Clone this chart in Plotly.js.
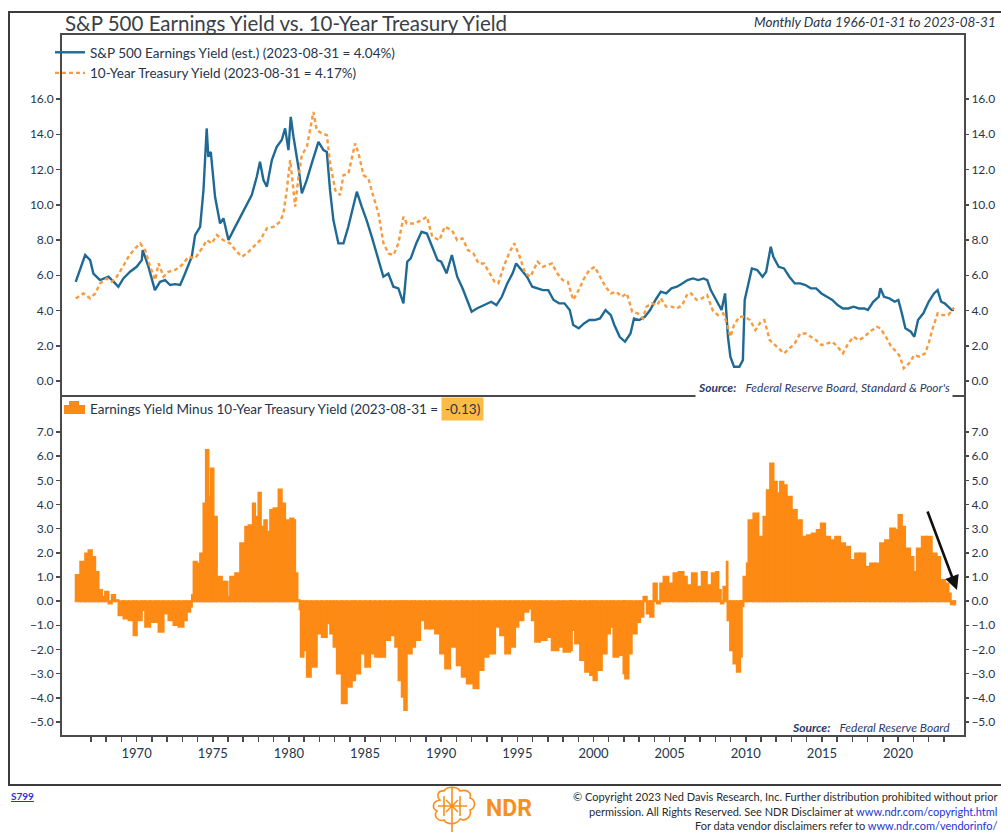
<!DOCTYPE html>
<html>
<head>
<meta charset="utf-8">
<script src="https://cdn.plot.ly/plotly-3.0.1.min.js"></script>
<style>html,body{margin:0;padding:0;background:#fff;}#chart{width:1001px;height:832px;}</style>
</head>
<body>
<div id="chart"></div>
<script>
// ---- Data (decimal years) ----
const eyYears = [1966.0,1966.62,1966.95,1967.16,1967.6,1968.15,1968.5,1968.8,1969.13,1969.57,1970.0,1970.34,1970.4,1970.78,1971.2,1971.54,1971.87,1972.2,1972.53,1972.86,1973.18,1973.62,1973.84,1974.17,1974.39,1974.6,1974.71,1974.87,1975.15,1975.48,1975.7,1976.03,1976.36,1976.8,1977.24,1977.56,1977.89,1978.1,1978.33,1978.55,1978.88,1979.2,1979.53,1979.75,1979.97,1980.12,1980.3,1980.62,1980.85,1981.17,1981.5,1981.72,1981.94,1982.27,1982.49,1982.7,1982.92,1983.25,1983.58,1983.9,1984.23,1984.46,1984.78,1985.1,1985.44,1985.88,1986.2,1986.53,1986.86,1987.19,1987.52,1987.77,1988.0,1988.36,1988.71,1989.06,1989.41,1989.76,1990.0,1990.35,1990.7,1991.05,1991.4,1991.76,1992.0,1992.34,1992.81,1993.28,1993.63,1993.98,1994.34,1994.69,1994.92,1995.27,1995.63,1995.98,1996.33,1996.68,1997.03,1997.38,1997.74,1998.09,1998.44,1998.67,1999.03,1999.38,1999.73,2000.08,2000.43,2000.79,2001.14,2001.37,2001.72,2002.07,2002.43,2002.66,2003.01,2003.37,2003.72,2004.07,2004.42,2004.77,2005.12,2005.48,2005.83,2006.18,2006.53,2006.88,2007.23,2007.47,2007.7,2008.06,2008.41,2008.64,2008.83,2008.99,2009.23,2009.58,2009.81,2009.93,2010.17,2010.4,2010.75,2011.1,2011.34,2011.64,2011.81,2012.16,2012.51,2012.86,2013.22,2013.57,2013.92,2014.27,2014.62,2014.97,2015.33,2015.68,2016.03,2016.38,2016.73,2017.08,2017.43,2017.79,2018.02,2018.37,2018.73,2018.84,2019.08,2019.43,2019.78,2020.02,2020.25,2020.48,2020.84,2021.07,2021.31,2021.66,2022.01,2022.36,2022.6,2022.83,2023.06,2023.53,2023.67];
const eyValues = [5.63,7.15,6.86,6.1,5.73,5.92,5.63,5.35,5.82,6.2,6.48,6.86,7.43,6.48,5.16,5.63,5.73,5.45,5.5,5.45,6.1,7.05,8.28,8.75,10.83,14.33,12.72,13.0,10.45,8.94,9.23,8.0,8.56,9.32,10.08,10.55,11.59,12.44,11.4,11.02,12.54,13.29,13.67,14.33,13.1,14.99,13.86,12.16,10.65,11.4,12.35,13.0,13.57,13.1,13.0,10.83,9.13,7.81,7.81,8.75,9.89,10.74,9.89,9.13,8.19,6.86,5.92,6.1,5.35,5.26,4.41,6.77,6.96,7.81,8.47,8.37,7.62,6.86,6.77,6.11,7.15,5.92,5.26,4.5,3.93,4.12,4.31,4.5,4.31,4.78,5.54,6.11,6.67,6.3,5.92,5.35,5.26,5.16,5.16,4.6,4.41,4.41,4.03,3.18,2.99,3.27,3.46,3.46,3.55,4.03,3.74,3.18,2.51,2.23,2.7,3.55,3.46,3.65,4.03,4.6,5.07,4.97,5.26,5.35,5.54,5.73,5.82,5.73,5.82,5.73,5.16,4.6,4.03,4.97,2.51,1.38,0.81,0.81,1.19,4.6,5.54,6.39,6.3,5.92,6.2,7.62,7.05,6.48,6.39,5.92,5.54,5.54,5.45,5.26,5.26,4.97,4.78,4.6,4.31,4.12,4.12,4.22,4.12,4.12,4.03,4.5,4.78,5.26,4.78,4.69,4.5,4.6,3.84,2.99,2.8,2.51,3.46,3.84,4.5,4.97,5.16,4.5,4.41,4.03,4.04];

const tyYears = [1966.0,1966.51,1966.95,1967.28,1967.61,1968.04,1968.37,1968.7,1969.03,1969.47,1969.8,1970.23,1970.56,1970.89,1971.22,1971.44,1971.77,1972.09,1972.53,1972.97,1973.41,1973.84,1974.28,1974.61,1974.94,1975.27,1975.7,1976.14,1976.58,1976.91,1977.24,1977.68,1978.11,1978.55,1978.99,1979.42,1979.64,1979.86,1980.08,1980.3,1980.41,1980.63,1980.85,1981.18,1981.4,1981.61,1981.83,1982.16,1982.49,1982.71,1983.04,1983.36,1983.58,1983.91,1984.35,1984.57,1984.9,1985.22,1985.55,1985.88,1986.21,1986.54,1986.87,1987.19,1987.52,1987.74,1988.24,1988.71,1989.06,1989.41,1989.88,1990.23,1990.7,1991.05,1991.4,1991.76,1992.11,1992.46,1992.81,1993.16,1993.51,1993.75,1994.1,1994.45,1994.8,1995.16,1995.51,1995.86,1996.33,1996.68,1997.27,1997.62,1997.97,1998.32,1998.67,1999.03,1999.38,1999.73,2000.08,2000.43,2000.79,2001.14,2001.49,2001.84,2002.19,2002.54,2002.9,2003.25,2003.48,2003.83,2004.19,2004.42,2004.77,2005.12,2005.48,2005.83,2006.18,2006.41,2006.77,2007.12,2007.47,2007.82,2008.17,2008.52,2008.76,2008.99,2009.23,2009.58,2009.93,2010.28,2010.63,2010.99,2011.22,2011.57,2012.04,2012.51,2012.86,2013.22,2013.57,2013.92,2014.27,2014.62,2014.97,2015.33,2015.68,2016.03,2016.38,2016.73,2017.08,2017.43,2017.79,2018.14,2018.61,2018.84,2019.2,2019.55,2019.9,2020.13,2020.37,2020.72,2021.07,2021.42,2021.77,2022.01,2022.24,2022.6,2022.95,2023.3,2023.53,2023.67];
const tyValues = [4.69,4.97,4.69,4.97,5.54,5.82,5.63,5.92,6.39,7.05,7.43,7.81,7.43,6.48,5.73,6.67,5.92,6.2,6.3,6.58,7.05,6.96,7.52,7.99,7.81,8.28,7.99,7.81,7.33,7.05,7.24,7.62,7.99,8.66,8.75,9.04,9.51,10.83,12.53,10.83,9.89,11.59,12.82,13.29,14.23,15.27,14.23,14.05,13.95,12.34,10.83,10.55,11.68,11.78,13.48,12.91,11.68,11.49,10.45,9.51,7.81,7.24,7.15,7.81,9.32,8.94,8.94,9.13,9.32,8.19,7.99,8.75,8.56,7.99,8.09,7.43,7.24,6.67,6.67,6.11,5.63,5.54,6.48,7.24,7.81,7.05,6.11,5.92,6.77,6.48,6.67,6.11,5.73,5.63,4.6,5.16,5.82,6.3,6.48,5.92,5.35,4.97,5.07,4.78,4.97,3.93,3.84,3.55,4.22,4.41,4.31,4.69,4.22,4.22,4.12,4.31,4.97,4.97,4.6,4.69,4.88,4.03,3.74,3.84,3.27,2.51,3.18,3.65,3.65,3.46,2.89,3.37,3.46,2.32,1.95,1.57,1.85,2.14,2.7,2.7,2.51,2.32,2.04,2.14,2.23,1.95,1.57,2.14,2.51,2.32,2.51,2.8,3.08,2.99,2.51,1.95,1.66,1.38,0.72,1.0,1.47,1.38,1.57,2.14,2.89,3.84,3.74,3.74,4.03,4.17];

const spreadYears = [1966.0,1966.3,1966.62,1966.84,1967.06,1967.28,1967.5,1967.72,1967.93,1968.15,1968.37,1968.59,1968.81,1969.14,1969.47,1969.8,1970.01,1970.34,1970.56,1970.89,1971.22,1971.44,1971.77,1972.09,1972.42,1972.75,1973.08,1973.3,1973.52,1973.63,1973.74,1973.95,1974.17,1974.39,1974.55,1974.72,1974.87,1975.05,1975.27,1975.6,1975.81,1975.97,1976.14,1976.47,1976.8,1977.13,1977.35,1977.63,1977.78,1978.0,1978.16,1978.38,1978.55,1978.77,1978.99,1979.32,1979.53,1979.75,1979.97,1980.08,1980.3,1980.41,1980.56,1980.7,1980.78,1980.96,1981.18,1981.44,1981.83,1982.16,1982.49,1982.71,1982.93,1983.15,1983.47,1983.8,1984.13,1984.35,1984.68,1985.01,1985.33,1985.66,1985.99,1986.32,1986.65,1986.98,1987.2,1987.41,1987.57,1987.74,1988.07,1988.29,1988.62,1988.94,1989.27,1989.6,1989.93,1990.26,1990.59,1991.02,1991.35,1991.68,1992.12,1992.45,1992.78,1993.1,1993.54,1993.87,1994.2,1994.53,1994.85,1995.07,1995.4,1995.73,1995.95,1996.17,1996.5,1996.93,1997.26,1997.7,1998.03,1998.47,1998.58,1998.79,1999.12,1999.45,1999.78,2000.0,2000.22,2000.55,2000.87,2001.09,2001.31,2001.64,2001.97,2002.08,2002.3,2002.51,2002.84,2003.06,2003.28,2003.5,2003.72,2003.94,2004.16,2004.38,2004.6,2004.92,2005.25,2005.58,2005.91,2006.13,2006.46,2006.78,2007.11,2007.44,2007.77,2008.05,2008.2,2008.36,2008.53,2008.75,2008.8,2008.97,2009.19,2009.41,2009.63,2009.74,2009.85,2010.07,2010.18,2010.5,2010.83,2011.16,2011.38,2011.6,2011.82,2012.04,2012.25,2012.47,2012.69,2013.02,2013.35,2013.68,2014.01,2014.33,2014.66,2014.93,2015.21,2015.54,2015.87,2016.2,2016.52,2016.85,2017.18,2017.51,2017.84,2018.16,2018.49,2018.82,2019.15,2019.48,2019.81,2020.03,2020.25,2020.46,2020.79,2021.01,2021.23,2021.56,2021.88,2022.21,2022.54,2022.76,2023.09,2023.31,2023.46,2023.67];
const spreadValues = [1.08,1.63,1.97,2.11,1.83,1.21,0.46,0.18,0.39,-0.1,0.25,0.04,-0.58,-0.72,-0.79,-1.41,-0.79,-0.37,-1.06,-0.86,-0.86,-1.27,-0.51,-0.79,-0.99,-1.06,-0.79,-0.44,-0.23,0.25,1.63,1.56,1.97,4.04,6.25,4.32,5.49,3.49,1.01,0.8,0.8,0.18,1.01,1.15,2.39,3.08,3.14,4.04,3.49,4.48,3.08,3.35,2.87,3.77,3.84,4.62,4.04,3.35,2.25,3.42,3.35,1.15,0.04,-0.34,-2.3,-2.03,-3.13,-2.72,-1.34,-1.48,-0.92,-1.34,-1.89,-2.99,-4.23,-3.54,-3.27,-2.99,-2.17,-2.72,-2.17,-2.3,-2.3,-1.61,-1.41,-1.89,-3.27,-3.96,-4.51,-2.17,-1.89,-1.61,-0.79,-1.13,-1.13,-1.34,-2.17,-2.79,-1.89,-2.65,-3.13,-3.41,-3.61,-2.85,-2.3,-2.17,-1.06,-1.41,-2.17,-1.89,-1.06,-0.79,-0.44,-0.3,-0.79,-1.68,-1.61,-1.48,-2.03,-1.89,-2.1,-2.03,-1.2,-1.75,-2.44,-2.92,-3.06,-3.27,-2.85,-2.17,-1.34,-1.06,-2.3,-2.23,-2.99,-3.2,-2.17,-1.34,-0.86,-0.65,0.18,-0.51,-0.65,0.73,-0.1,0.73,1.01,0.73,1.15,1.21,1.01,0.66,1.15,0.59,1.21,0.66,1.15,1.21,0.46,-0.1,0.59,1.63,-0.79,-2.03,-2.58,-2.92,-2.3,-0.21,1.01,1.56,3.35,3.63,2.66,3.49,4.59,5.7,4.94,4.46,4.94,4.8,4.32,3.77,3.35,2.66,2.73,2.8,2.94,3.21,2.66,2.52,2.66,2.39,2.25,1.7,1.97,1.97,1.42,1.56,1.56,2.39,2.52,3.01,2.94,3.56,3.08,2.18,1.83,1.21,2.18,2.66,2.66,1.97,1.83,0.87,0.73,0.32,-0.13,-0.13];

const yearTicks = [];
for (let y = 1967; y <= 2023; y++) yearTicks.push(y);
const yearTickText = yearTicks.map(y => (y % 5 === 0 ? String(y) : ''));
const topTicks = [0, 2, 4, 6, 8, 10, 12, 14, 16];
const bottomTicks = [-5, -4, -3, -2, -1, 0, 1, 2, 3, 4, 5, 6, 7];

const labelEY = 'S&P 500 Earnings Yield (est.) (2023-08-31 = 4.04%)';
const labelTY = '10-Year Treasury Yield (2023-08-31 = 4.17%)';
const labelSpread = 'Earnings Yield Minus 10-Year Treasury Yield (2023-08-31 =';
const lastSpreadText = '-0.13)';

// ---- helpers for layout placement (pixel -> paper) ----
const L = 62, R = 37, T = 35, B = 97, W = 1001, H = 832;
const PW = W - L - R, PH = H - T - B;
const px = v => (v - L) / PW;
const py = v => (H - B - v) / PH;
const split = py(395);

const barWidths = spreadYears.map((y, i) => i < spreadYears.length - 1 ? spreadYears[i + 1] - y : 1 / 12);

const FONT = 'Lato, "Open Sans", sans-serif';
const TXT = '#26354a';
const AX = '#4a4a4a';
const BAR = '#fd8a14';

const traces = [
  { x: eyYears, y: eyValues, type: 'scatter', mode: 'lines', name: labelEY,
    xaxis: 'x2', yaxis: 'y', line: { color: '#1f6a95', width: 2.4 }, legend: 'legend' },
  { x: tyYears, y: tyValues, type: 'scatter', mode: 'lines', name: labelTY,
    xaxis: 'x2', yaxis: 'y', line: { color: '#f99a3d', width: 2.4, dash: '4px,3px' }, legend: 'legend' },
  { x: spreadYears, y: spreadValues, type: 'bar', name: labelSpread, width: barWidths, offset: 0,
    xaxis: 'x', yaxis: 'y2', marker: { color: BAR, line: { color: BAR, width: 2 } }, showlegend: false },
  { x: [], y: [], type: 'scatter', xaxis: 'x2', yaxis: 'y3', showlegend: false, hoverinfo: 'skip' },
  { x: [], y: [], type: 'scatter', xaxis: 'x', yaxis: 'y4', showlegend: false, hoverinfo: 'skip' }
];

const yCommon = {
  showgrid: false, zeroline: false, showline: true, linecolor: AX, linewidth: 2,
  ticks: 'outside', ticklen: 4, tickwidth: 1.5, tickcolor: AX, tickformat: '.1f',
  tickfont: { family: FONT, size: 12, color: TXT }, fixedrange: true
};

const ndrLogo = 'M452,787 L452,832 M440,800 C436,796 438,790 444,791 C447,786 457,786 460,791 ' +
  'C466,789 472,792 470,798 C476,800 476,808 470,810 C472,816 466,822 460,819 C457,825 447,825 444,820 ' +
  'C438,822 433,816 437,811 C431,808 433,801 440,800 Z M444,796 L444,816 M460,796 L460,816 ' +
  'M438,806 L467,806 M446,800 L458,812 M458,800 L446,812';

const layout = {
  width: W, height: H,
  margin: { l: L, r: R, t: T, b: B, pad: 0 },
  paper_bgcolor: '#ffffff', plot_bgcolor: '#ffffff',
  font: { family: FONT, color: TXT },
  showlegend: true,
  title: { text: 'S&P 500 Earnings Yield vs. 10-Year Treasury Yield',
    xref: 'container', x: 65 / W, xanchor: 'left', yref: 'container', y: 1 - 24 / H, yanchor: 'middle',
    font: { family: FONT, size: 20.5, color: '#3a3f48' } },
  xaxis: { range: [1965.1, 2024.33], anchor: 'y2', showgrid: false, zeroline: false,
    showline: true, linecolor: AX, linewidth: 2, tickmode: 'array', tickvals: yearTicks, ticktext: yearTickText,
    ticks: 'outside', ticklen: 5, tickwidth: 1.5, tickcolor: AX,
    tickfont: { family: FONT, size: 13, color: TXT }, fixedrange: true },
  xaxis2: { matches: 'x', anchor: 'y', showgrid: false, zeroline: false, showticklabels: false, ticks: '',
    showline: true, mirror: true, linecolor: AX, linewidth: 2, fixedrange: true },
  yaxis: Object.assign({}, yCommon, { domain: [split, 1], range: [-0.79, 19.63], tickvals: topTicks, anchor: 'x2', side: 'left', mirror: true }),
  yaxis3: Object.assign({}, yCommon, { overlaying: 'y', range: [-0.79, 19.63], tickvals: topTicks, anchor: 'x2', side: 'right', showline: false }),
  yaxis2: Object.assign({}, yCommon, { domain: [0, split], range: [-5.54, 8.53], tickvals: bottomTicks, anchor: 'x', side: 'left', mirror: true }),
  yaxis4: Object.assign({}, yCommon, { overlaying: 'y2', range: [-5.54, 8.53], tickvals: bottomTicks, anchor: 'x', side: 'right', showline: false }),
  legend: { x: px(50), xanchor: 'left', y: py(37), yanchor: 'top', bgcolor: 'rgba(0,0,0,0)',
    itemwidth: 30, tracegroupgap: 0, font: { family: FONT, size: 13.5, color: TXT } },
  shapes: [
    { type: 'rect', xref: 'paper', yref: 'paper', x0: px(9), x1: px(1015), y0: py(785), y1: py(12),
      line: { color: '#3c3c3c', width: 2 }, fillcolor: 'rgba(0,0,0,0)' },
    { type: 'rect', xref: 'paper', yref: 'paper', x0: px(64), x1: px(85), y0: py(414), y1: py(405),
      line: { width: 0 }, fillcolor: BAR },
    { type: 'rect', xref: 'paper', yref: 'paper', x0: px(69), x1: px(79), y0: py(405), y1: py(401),
      line: { width: 0 }, fillcolor: BAR },
    { type: 'path', xref: 'paper', yref: 'paper', path: ndrLogo.replace(/(\d+(?:\.\d+)?),(\d+(?:\.\d+)?)/g,
        (m, a, b) => px(+a) + ',' + py(+b)), line: { color: '#f7901e', width: 1.6 }, fillcolor: 'rgba(0,0,0,0)' }
  ],
  annotations: [
    { xref: 'paper', yref: 'paper', x: px(998), y: py(22), xanchor: 'right', yanchor: 'middle', showarrow: false,
      text: '<i>Monthly Data 1966-01-31 to 2023-08-31</i>', font: { family: FONT, size: 13.5, color: '#2d3442' } },
    { xref: 'paper', yref: 'paper', x: px(88), y: py(409), xanchor: 'left', yanchor: 'middle', showarrow: false,
      text: labelSpread, font: { family: FONT, size: 13.5, color: TXT } },
    { xref: 'paper', yref: 'paper', x: px(441), y: py(409), xanchor: 'left', yanchor: 'middle', showarrow: false,
      text: lastSpreadText, bgcolor: '#fbbb44', borderpad: 3, font: { family: FONT, size: 13.5, color: TXT } },
    { xref: 'paper', yref: 'paper', x: px(953), y: py(387), xanchor: 'right', yanchor: 'middle', showarrow: false,
      bgcolor: '#ffffff', borderpad: 2,
      text: '<b><i>Source:</i></b>   <i>Federal Reserve Board, Standard &amp; Poor\'s</i>',
      font: { family: FONT, size: 12, color: '#2b3a6a' } },
    { xref: 'paper', yref: 'paper', x: px(952), y: py(727), xanchor: 'right', yanchor: 'middle', showarrow: false,
      text: '<b><i>Source:</i></b>   <i>Federal Reserve Board</i>',
      font: { family: FONT, size: 12, color: '#2b3a6a' } },
    { xref: 'paper', yref: 'paper', x: px(957), y: py(590), ax: -30, ay: -80, axref: 'pixel', ayref: 'pixel',
      showarrow: true, text: '', arrowhead: 2, arrowsize: 1.1, arrowwidth: 2.6, arrowcolor: '#111111' },
    { xref: 'paper', yref: 'paper', x: px(9), y: py(796), xanchor: 'left', yanchor: 'middle', showarrow: false,
      text: '<b><u>S799</u></b>', font: { family: FONT, size: 10, color: '#2a34d6' } },
    { xref: 'paper', yref: 'paper', x: px(484), y: py(808), xanchor: 'left', yanchor: 'middle', showarrow: false,
      text: '<b>NDR</b>', font: { family: 'Roboto, Lato, sans-serif', size: 23, color: '#f7901e' } },
    { xref: 'paper', yref: 'paper', x: px(999), y: py(796), xanchor: 'right', yanchor: 'middle', showarrow: false,
      text: '© Copyright 2023 Ned Davis Research, Inc. Further distribution prohibited without prior',
      font: { family: FONT, size: 11, color: '#2a2a2a' } },
    { xref: 'paper', yref: 'paper', x: px(999), y: py(811), xanchor: 'right', yanchor: 'middle', showarrow: false,
      text: 'permission. All Rights Reserved. See NDR Disclaimer at <span style="color:#2235d0">www.ndr.com/copyright.html</span>',
      font: { family: FONT, size: 11, color: '#2a2a2a' } },
    { xref: 'paper', yref: 'paper', x: px(999), y: py(825), xanchor: 'right', yanchor: 'middle', showarrow: false,
      text: 'For data vendor disclaimers refer to <span style="color:#2235d0">www.ndr.com/vendorinfo/</span>',
      font: { family: FONT, size: 11, color: '#2a2a2a' } }
  ]
};

Plotly.newPlot('chart', traces, layout, { displayModeBar: false, staticPlot: true });
</script>
</body>
</html>
